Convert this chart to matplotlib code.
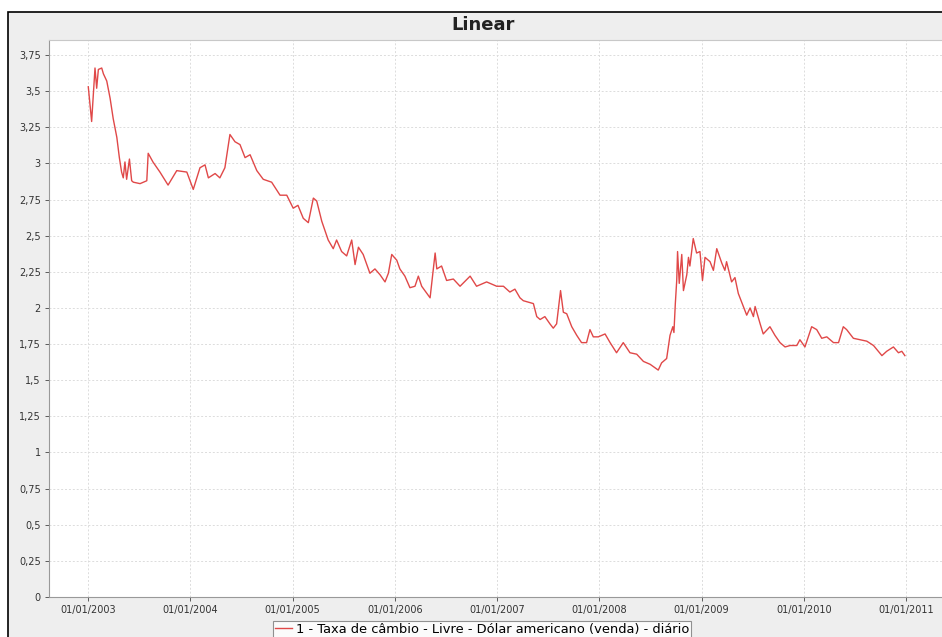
import matplotlib
matplotlib.use('Agg')
import matplotlib.pyplot as plt
import matplotlib.dates as mdates
from matplotlib.patches import Rectangle
import pandas as pd

# Taxa de câmbio - Livre - Dólar americano (venda) - diário
datas = [
    '2003-01-02', '2003-01-14', '2003-01-26', '2003-02-01', '2003-02-07', '2003-02-19',
    '2003-02-25', '2003-03-09', '2003-03-21', '2003-04-01', '2003-04-14', '2003-04-23',
    '2003-05-01', '2003-05-07', '2003-05-13', '2003-05-19', '2003-05-29', '2003-06-06',
    '2003-06-12', '2003-07-06', '2003-07-30', '2003-08-04', '2003-08-21', '2003-09-15',
    '2003-10-14', '2003-11-14', '2003-12-20', '2004-01-12', '2004-02-05', '2004-02-23',
    '2004-03-06', '2004-03-30', '2004-04-16', '2004-05-04', '2004-05-22', '2004-06-09',
    '2004-06-27', '2004-07-15', '2004-08-02', '2004-08-26', '2004-09-18', '2004-10-18',
    '2004-11-17', '2004-12-11', '2005-01-03', '2005-01-20', '2005-02-08', '2005-02-26',
    '2005-03-16', '2005-03-28', '2005-04-15', '2005-05-08', '2005-05-26', '2005-06-07',
    '2005-06-25', '2005-07-13', '2005-07-31', '2005-08-12', '2005-08-24', '2005-09-10',
    '2005-10-04', '2005-10-22', '2005-11-09', '2005-11-27', '2005-12-09', '2005-12-21',
    '2006-01-08', '2006-01-19', '2006-02-06', '2006-02-24', '2006-03-14', '2006-03-26',
    '2006-04-07', '2006-05-07', '2006-05-25', '2006-05-31', '2006-06-17', '2006-07-05',
    '2006-07-29', '2006-08-22', '2006-09-27', '2006-10-20', '2006-11-25', '2006-12-31',
    '2007-01-24', '2007-02-16', '2007-03-06', '2007-03-24', '2007-04-05', '2007-05-11',
    '2007-05-23', '2007-06-04', '2007-06-21', '2007-07-09', '2007-07-21', '2007-08-02',
    '2007-08-16', '2007-08-26', '2007-09-07', '2007-09-25', '2007-10-13', '2007-10-30',
    '2007-11-17', '2007-11-29', '2007-12-11', '2007-12-29', '2008-01-22', '2008-02-09',
    '2008-03-03', '2008-03-27', '2008-04-20', '2008-05-14', '2008-06-07', '2008-07-01',
    '2008-07-30', '2008-08-11', '2008-08-29', '2008-09-10', '2008-09-20', '2008-09-24',
    '2008-09-29', '2008-10-04', '2008-10-07', '2008-10-13', '2008-10-22', '2008-10-28',
    '2008-11-09', '2008-11-15', '2008-11-20', '2008-12-02', '2008-12-14', '2008-12-26',
    '2009-01-04', '2009-01-13', '2009-01-31', '2009-02-12', '2009-02-24', '2009-03-14',
    '2009-03-25', '2009-03-31', '2009-04-18', '2009-04-30', '2009-05-12', '2009-05-30',
    '2009-06-11', '2009-06-23', '2009-07-05', '2009-07-11', '2009-07-29', '2009-08-09',
    '2009-09-02', '2009-09-20', '2009-10-08', '2009-10-26', '2009-11-13', '2009-12-07',
    '2009-12-18', '2010-01-05', '2010-01-29', '2010-02-16', '2010-03-06', '2010-03-24',
    '2010-04-17', '2010-05-05', '2010-05-22', '2010-06-03', '2010-06-27', '2010-07-21',
    '2010-08-14', '2010-09-07', '2010-10-07', '2010-10-24', '2010-11-17', '2010-12-05',
    '2010-12-17', '2010-12-28',
]
valores = [
    3.53, 3.29, 3.66, 3.52, 3.65, 3.66,
    3.62, 3.57, 3.45, 3.31, 3.18, 3.04,
    2.94, 2.90, 3.01, 2.89, 3.03, 2.88,
    2.87, 2.86, 2.88, 3.07, 3.01, 2.94,
    2.85, 2.95, 2.94, 2.82, 2.97, 2.99,
    2.90, 2.93, 2.90, 2.97, 3.20, 3.15,
    3.13, 3.04, 3.06, 2.95, 2.89, 2.87,
    2.78, 2.78, 2.69, 2.71, 2.62, 2.59,
    2.76, 2.74, 2.60, 2.47, 2.41, 2.47,
    2.39, 2.36, 2.47, 2.30, 2.42, 2.37,
    2.24, 2.27, 2.23, 2.18, 2.24, 2.37,
    2.33, 2.27, 2.22, 2.14, 2.15, 2.22,
    2.15, 2.07, 2.38, 2.27, 2.29, 2.19,
    2.20, 2.15, 2.22, 2.15, 2.18, 2.15,
    2.15, 2.11, 2.13, 2.07, 2.05, 2.03,
    1.94, 1.92, 1.94, 1.89, 1.86, 1.89,
    2.12, 1.97, 1.96, 1.87, 1.81, 1.76,
    1.76, 1.85, 1.80, 1.80, 1.82, 1.76,
    1.69, 1.76, 1.69, 1.68, 1.63, 1.61,
    1.57, 1.62, 1.65, 1.81, 1.87, 1.83,
    2.03, 2.19, 2.39, 2.17, 2.37, 2.12,
    2.23, 2.35, 2.29, 2.48, 2.38, 2.39,
    2.19, 2.35, 2.32, 2.26, 2.41, 2.31,
    2.26, 2.32, 2.18, 2.21, 2.10, 2.01,
    1.95, 2.00, 1.94, 2.01, 1.89, 1.82,
    1.87, 1.81, 1.76, 1.73, 1.74, 1.74,
    1.78, 1.73, 1.87, 1.85, 1.79, 1.80,
    1.76, 1.76, 1.87, 1.85, 1.79, 1.78,
    1.77, 1.74, 1.67, 1.70, 1.73, 1.69,
    1.70, 1.67,
]
y_ticks = [0, 0.25, 0.5, 0.75, 1, 1.25, 1.5, 1.75, 2, 2.25, 2.5, 2.75, 3, 3.25, 3.5, 3.75]
x_ticks = ['2003-01-01', '2004-01-01', '2005-01-01', '2006-01-01', '2007-01-01',
           '2008-01-01', '2009-01-01', '2010-01-01', '2011-01-01']
titulo = 'Linear'
legenda = '1 - Taxa de câmbio - Livre - Dólar americano (venda) - diário'

plt.rcParams['font.family'] = 'DejaVu Sans'

W, H = 942, 637
fig = plt.figure(figsize=(W / 100, H / 100), dpi=100)
fig.patch.set_facecolor('white')

# moldura cinza do painel (cortada a direita e embaixo)
fig.patches.append(Rectangle((8 / W, -0.05), 1.1, 1 - 12 / H + 0.05, transform=fig.transFigure,
                             facecolor='#eeeeee', edgecolor='black', linewidth=1.2, zorder=-5))

ax = fig.add_axes([49 / W, 1 - 597 / H, (950 - 49) / W, (597 - 40) / H])
ax.set_zorder(2)
ax.set_facecolor('white')

x = pd.to_datetime(datas)
ax.plot(x, valores, color='#e04848', linewidth=1.0)

# eixo x: 102.25 px por ano, 01/01/2003 em x=88
t0 = pd.Timestamp('2003-01-01')
dia = 818 / 2922.0
ax.set_xlim(t0 - pd.Timedelta(days=(88 - 49) / dia), t0 + pd.Timedelta(days=(950 - 88) / dia))
ax.set_ylim(0, 3.75 + 15 / 144.5)

ax.set_xticks(pd.to_datetime(x_ticks))
ax.xaxis.set_major_formatter(mdates.DateFormatter('%d/%m/%Y'))
ax.set_yticks(y_ticks)
ax.set_yticklabels([('%g' % v).replace('.', ',') for v in y_ticks])

ax.tick_params(axis='both', labelsize=7, colors='#444444', length=3, width=0.6, pad=3)
for lab in ax.get_xticklabels() + ax.get_yticklabels():
    lab.set_color('#333333')

ax.grid(True, color='#dcdcdc', linestyle=(0, (2, 2)), linewidth=0.7)
ax.set_axisbelow(True)

for s in ['left', 'bottom']:
    ax.spines[s].set_color('#999999')
    ax.spines[s].set_linewidth(0.8)
ax.spines['top'].set_color('#c8c8c8')
ax.spines['top'].set_linewidth(0.8)
ax.spines['right'].set_visible(False)

fig.text(483 / W, 1 - 25 / H, titulo, ha='center', va='center', fontsize=13, fontweight='bold',
         color='#222222')

# legenda embaixo
leg = fig.legend([ax.lines[0]], [legenda], loc='upper center', bbox_to_anchor=(482 / W, 1 - 621 / H),
                 fontsize=9.4, frameon=True, fancybox=False, handlelength=1.3, handletextpad=0.3,
                 borderpad=0.15, borderaxespad=0)
leg.get_frame().set_edgecolor('#777777')
leg.get_frame().set_linewidth(0.8)
leg.get_frame().set_facecolor('white')
leg.set_zorder(3)

plt.savefig('out.png', dpi=100)
